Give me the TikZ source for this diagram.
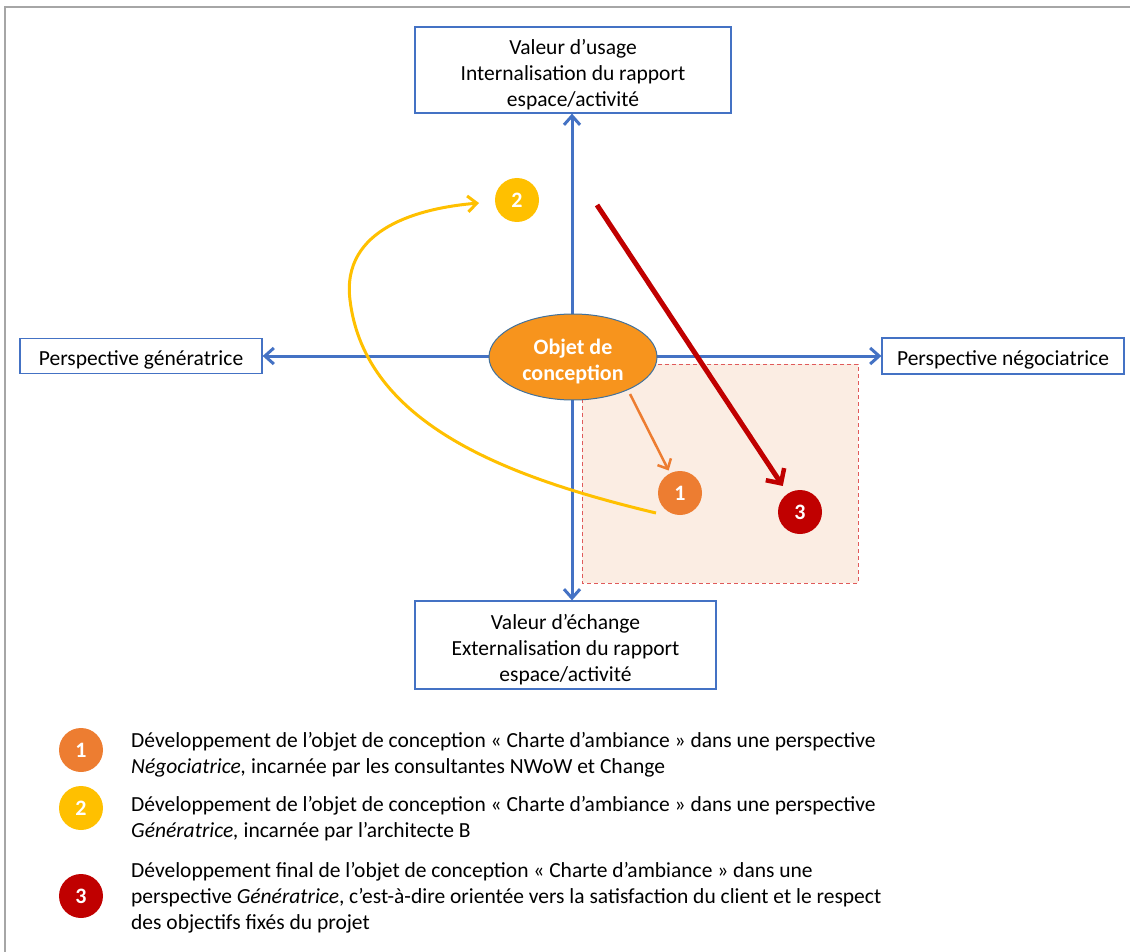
\documentclass[tikz,border=0pt]{standalone}
\usepackage{fontspec}
\setmainfont{Carlito}
\usetikzlibrary{arrows.meta,shapes.geometric,calc}
\definecolor{axblue}{HTML}{4472C4}
\definecolor{objorange}{HTML}{F7941D}
\definecolor{objborder}{HTML}{41719C}
\definecolor{cone}{HTML}{ED7D31}
\definecolor{ctwo}{HTML}{FFC000}
\definecolor{cthree}{HTML}{C00000}
\definecolor{peach}{HTML}{FBEDE3}
\definecolor{dashred}{HTML}{E05A5A}
\definecolor{framegray}{HTML}{A6A6A6}
\newcommand{\upstrut}[1]{\rule{0pt}{#1}}
\tikzset{
  box/.style={draw=axblue,line width=1.2pt,fill=white,align=center,font=\fontsize{21.5}{26}\selectfont,inner sep=0pt},
  axis/.style={draw=axblue,line width=3pt,-{Straight Barb[length=9pt,width=16pt,line width=3pt]}},
  numc/.style={circle,minimum size=44pt,inner sep=0pt,text=white,font=\fontsize{22}{22}\selectfont\bfseries},
  legtext/.style={anchor=north west,align=left,inner sep=0pt,font=\fontsize{21.5}{26}\selectfont},
}
\begin{document}
\begin{tikzpicture}[x=1pt,y=-1pt]
\useasboundingbox (0,0) rectangle (1130,952);
% frame
\draw[framegray,line width=2pt] (5,952) -- (5,7) -- (1130,7);
% shaded zone
\fill[peach] (582,364) rectangle (858,583);
\draw[dashred,line width=1pt,dash pattern=on 4pt off 3pt] (582,364) rectangle (858,583);
% boxes
\node[box,minimum width=316pt,minimum height=86pt] (top) at (573,70) {\upstrut{24pt}Valeur d’usage\\Internalisation du rapport\\espace/activité};
\node[box,minimum width=301pt,minimum height=88pt] (bot) at (565.5,645) {\upstrut{24pt}Valeur d’échange\\Externalisation du rapport\\espace/activité};
\node[box,minimum width=242pt,minimum height=35pt] (left) at (141,356) {\upstrut{22pt}Perspective génératrice};
\node[box,minimum width=242pt,minimum height=36pt] (right) at (1003,356) {\upstrut{22pt}Perspective négociatrice};
% axes
\coordinate (o) at (572,356);
\draw[axis] (o) -- (o |- top.south);
\draw[axis] (o) -- (o |- bot.north);
\draw[axis] (o) -- (left.east);
\draw[axis] (o) -- (right.west);
% central ellipse
\node[ellipse,draw=objborder,line width=1pt,fill=objorange,minimum width=168pt,minimum height=86pt,inner sep=0pt,align=center,text=white,font=\fontsize{22}{26}\selectfont\bfseries] (obj) at (573,357) {\upstrut{24pt}Objet de\\conception};
% numbered circles
\node[numc,fill=cone] (c1) at (680,493) {1};
\node[numc,fill=ctwo] (c2) at (517,200) {2};
\node[numc,fill=cthree] (c3) at (800,512) {3};
% arrows
\coordinate (o1) at (630,394);
\draw[cone,line width=2.5pt,shorten >=3pt,-{Straight Barb[length=8pt,width=15pt,line width=2.5pt]}] (o1) -- (c1);
\coordinate (r0) at (597,205);
\draw[cthree,line width=5pt,shorten >=9pt,-{Straight Barb[length=11pt,width=22pt,line width=4.5pt]}] (r0) -- (c3);
\coordinate (y0) at (656,513);
\coordinate (y1) at (479,203);
\draw[ctwo,line width=3pt,-{Straight Barb[length=9pt,width=16pt,line width=3pt]}] (y0) .. controls (510,478) and (365,425) .. (350,300) .. controls (341,228) and (420,208) .. (y1);
% legend
\node[numc,fill=cone] (l1) at (81,750) {1};
\node[numc,fill=ctwo] (l2) at (81,808) {2};
\node[numc,fill=cthree] (l3) at (81,896) {3};
\node[legtext] (t1) at (131,732) {Développement de l’objet de conception « Charte d’ambiance » dans une perspective\\\textit{Négociatrice,} incarnée par les consultantes NWoW et Change};
\node[legtext] (t2) at (131,796) {Développement de l’objet de conception « Charte d’ambiance » dans une perspective\\\textit{Génératrice,} incarnée par l’architecte B};
\node[legtext] (t3) at (131,862) {Développement final de l’objet de conception « Charte d’ambiance » dans une\\perspective \textit{Génératrice}, c’est-à-dire orientée vers la satisfaction du client et le respect\\des objectifs fixés du projet};
\end{tikzpicture}
\end{document}
